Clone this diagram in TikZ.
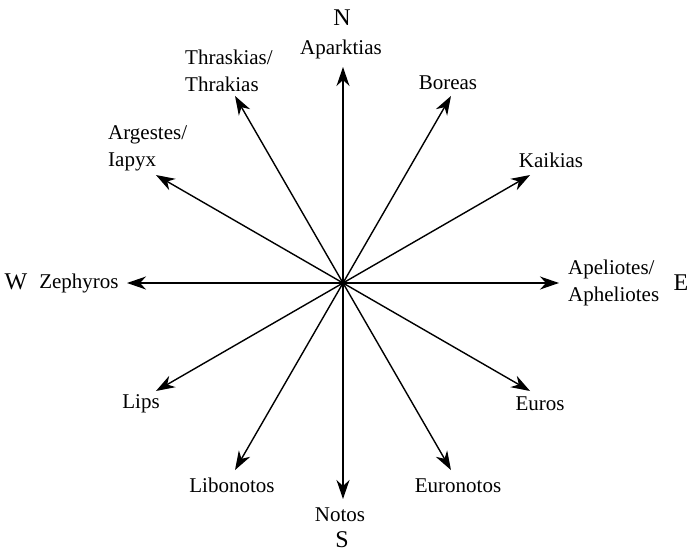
\documentclass[tikz,border=0pt]{standalone}
\usepackage{fontspec}
\setmainfont{Liberation Serif}
\usetikzlibrary{arrows.meta,calc}
\begin{document}
\begin{tikzpicture}[x=1pt,y=-1pt,
  wind/.style={font=\fontsize{21}{27}\selectfont, align=center, inner sep=0pt},
  windleft/.style={font=\fontsize{21}{27}\selectfont, align=left, inner sep=0pt, anchor=west},
  card/.style={font=\fontsize{24}{28}\selectfont, inner sep=0pt},
  ray/.style={line width=1.4pt, -{Stealth[length=19pt,width=13pt,inset=6pt]}},
  hub/.style={circle, fill=black, inner sep=0pt, minimum size=6pt}]
\useasboundingbox (0,0) rectangle (689,555);
\coordinate (c) at (343,283);
\foreach \nm/\ang in {N/90,Bo/60,Ka/30,E/0,Eu/-30,En/-60,S/-90,Lb/-120,Li/-150,W/180,Ar/150,Th/120}
  \coordinate (t\nm) at ($(c)+(-\ang:216)$);
\foreach \nm in {N,Bo,Ka,E,Eu,En,S,Lb,Li,W,Ar,Th}
  \draw[ray] (c) -- (t\nm);
\node[hub] (hubdot) at (c) {};
% cardinal letters
\node[card] (cN) at (342,18) {N};
\node[card] (cS) at (342,540) {S};
\node[card] (cE) at (681,283) {E};
\node[card] (cW) at (16,282) {W};
% wind names
\node[wind] (lAp) at (341,49) {Aparktias};
\node[windleft] (lTh) at (185,71) {Thraskias/\\Thrakias};
\node[windleft] (lAr) at (108,148) {Argestes/\\Iapyx};
\node[wind] (lBo) at (448,83) {Boreas};
\node[wind] (lKa) at (551,160) {Kaikias};
\node[windleft] (lAe) at (568,283) {Apeliotes/\\Apheliotes};
\node[wind] (lZe) at (79,283) {Zephyros};
\node[wind] (lLi) at (141,404) {Lips};
\node[wind] (lEu) at (540,404) {Euros};
\node[wind] (lLb) at (232,485) {Libonotos};
\node[wind] (lEn) at (458,486) {Euronotos};
\node[wind] (lNo) at (340,515) {Notos};
\end{tikzpicture}
\end{document}
